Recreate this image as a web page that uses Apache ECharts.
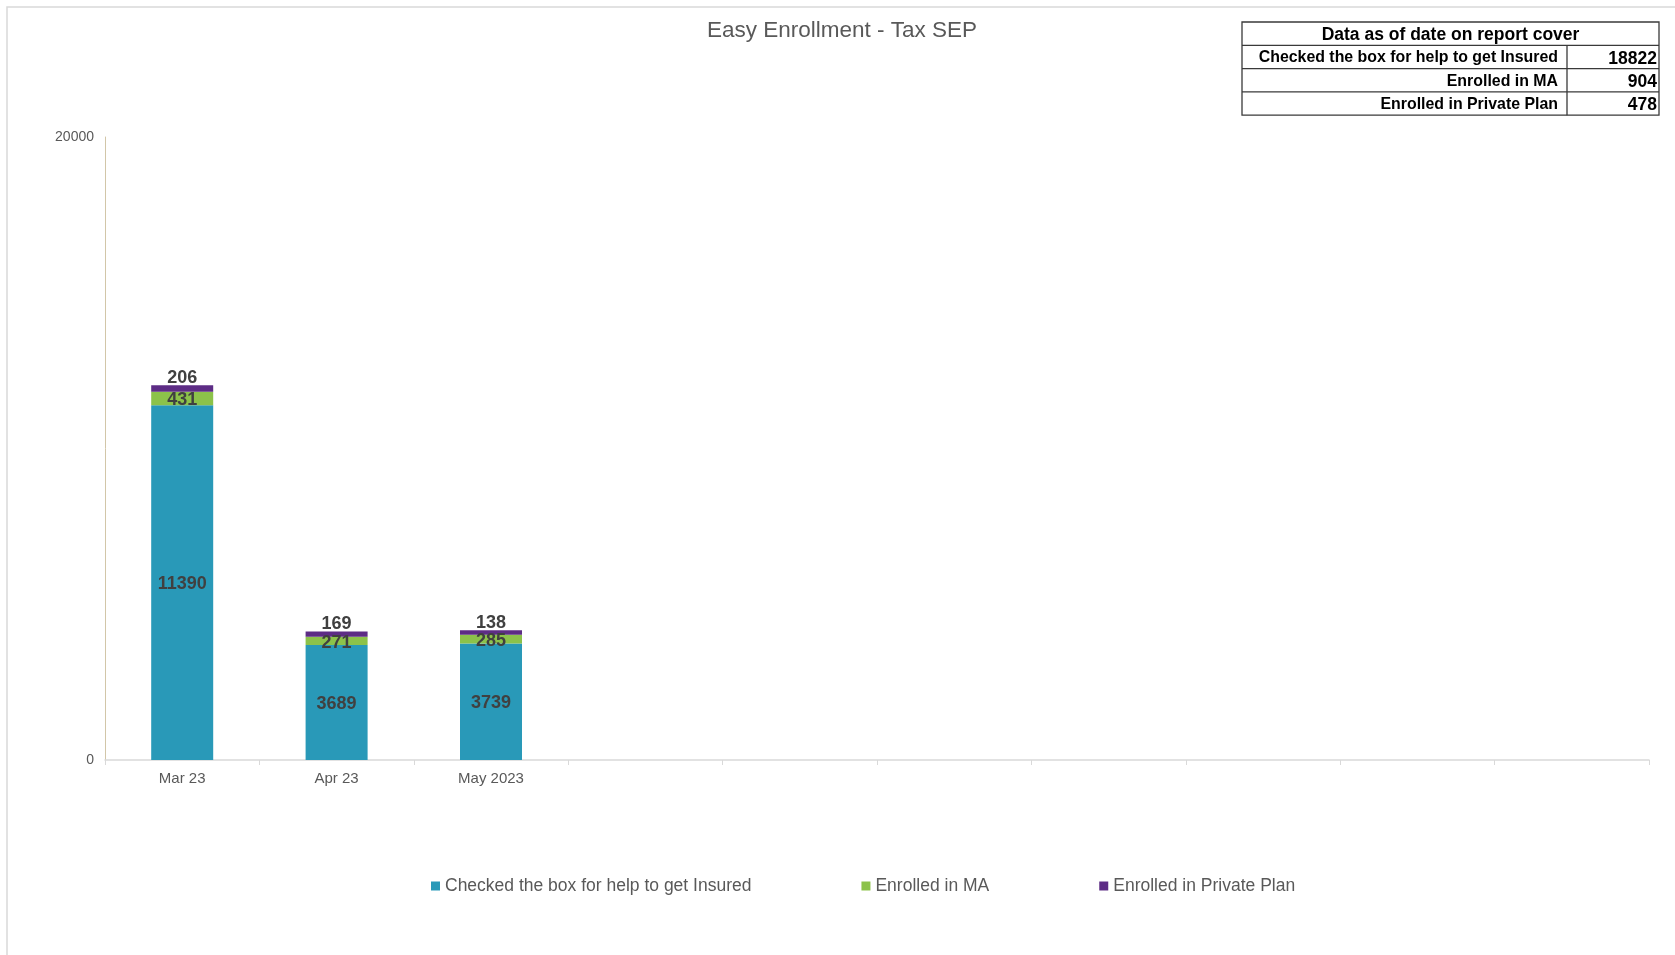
<!DOCTYPE html>
<html>
<head>
<meta charset="utf-8">
<title>Easy Enrollment - Tax SEP</title>
<script src="https://cdn.jsdelivr.net/npm/echarts@6/dist/echarts.min.js"></script>
<style>
    html, body { margin: 0; padding: 0; background: #fff; }
    #chart { width: 1675px; height: 955px; }
</style>
</head>
<body>
<div id="chart"></div>
<script>
// categories (10 slots on the axis, only three filled)
const months = ["Mar 23", "Apr 23", "May 2023", "", "", "", "", "", "", ""];
const seriesNames = ["Checked the box for help to get Insured", "Enrolled in MA", "Enrolled in Private Plan"];
const checkedBox = [11390, 3689, 3739];
const enrolledMA = [431, 271, 285];
const enrolledPrivate = [206, 169, 138];
const yTicks = [0, 20000];

// summary table
const tableTitle = "Data as of date on report cover";
const tableLabels = ["Checked the box for help to get Insured", "Enrolled in MA", "Enrolled in Private Plan"];
const tableValues = [18822, 904, 478];

const colors = ["#2999b8", "#8cc24a", "#5d2c85"];

// table geometry
const tX = 1242, tY = 22, tW = 417, rowH = 23.3, colX = 1567;
let tableEls = [];
tableEls.push({
    type: "rect",
    shape: { x: tX, y: tY, width: tW, height: rowH * 4 },
    style: { fill: "#fff", stroke: "#3a3a3a", lineWidth: 1.3 }
});
for (let i = 1; i < 4; i++) {
    tableEls.push({
        type: "line",
        shape: { x1: tX, y1: tY + rowH * i, x2: tX + tW, y2: tY + rowH * i },
        style: { stroke: "#3a3a3a", lineWidth: 1.3 }
    });
}
tableEls.push({
    type: "line",
    shape: { x1: colX, y1: tY + rowH, x2: colX, y2: tY + rowH * 4 },
    style: { stroke: "#3a3a3a", lineWidth: 1.3 }
});
tableEls.push({
    type: "text",
    x: tX + tW / 2, y: tY + rowH / 2 + 2,
    style: { text: tableTitle, align: "center", verticalAlign: "middle", font: "bold 17.5px 'Liberation Sans', Arial, sans-serif", fill: "#000" }
});
tableLabels.forEach(function (lab, i) {
    tableEls.push({
        type: "text",
        x: colX - 9, y: tY + rowH * (i + 1.5) + 1,
        style: { text: lab, align: "right", verticalAlign: "middle", font: "bold 15.9px 'Liberation Sans', Arial, sans-serif", fill: "#000" }
    });
    tableEls.push({
        type: "text",
        x: tX + tW - 2, y: tY + rowH * (i + 1.5) + 2,
        style: { text: String(tableValues[i]), align: "right", verticalAlign: "middle", font: "bold 17.5px 'Liberation Sans', Arial, sans-serif", fill: "#000" }
    });
});

const labelStyle = {
    show: true,
    fontFamily: "Liberation Sans",
    fontSize: 18,
    fontWeight: "bold",
    color: "#404040"
};

const myChart = echarts.init(document.getElementById("chart"));
const option = {
    animation: false,
    backgroundColor: "#fff",
    color: colors,
    textStyle: { fontFamily: "Liberation Sans" },
    title: {
        text: "Easy Enrollment - Tax SEP",
        left: 702,
        top: 14,
        textStyle: { fontSize: 22.5, fontWeight: "normal", color: "#595959", fontFamily: "Liberation Sans" }
    },
    legend: {
        left: 426,
        top: 872,
        itemWidth: 9,
        itemHeight: 9,
        itemGap: 110,
        icon: "rect",
        data: seriesNames,
        textStyle: { fontSize: 17.5, color: "#595959", fontFamily: "Liberation Sans" }
    },
    grid: { left: 105, right: 26, top: 137, bottom: 195, containLabel: false },
    xAxis: {
        type: "category",
        data: months,
        axisLine: { lineStyle: { color: "#d9d9d9", width: 1.5 } },
        axisTick: { show: true, length: 5, lineStyle: { color: "#d9d9d9" } },
        axisLabel: { fontSize: 15, color: "#595959", margin: 11, interval: 0 }
    },
    yAxis: {
        type: "value",
        min: yTicks[0],
        max: yTicks[yTicks.length - 1],
        interval: yTicks[1] - yTicks[0],
        splitLine: { show: false },
        axisLine: { show: true, lineStyle: { color: "#d2c6a8" } },
        axisTick: { show: false },
        axisLabel: { fontSize: 14, color: "#595959", margin: 11, formatter: function (v) { return String(v); } }
    },
    series: [
        {
            name: seriesNames[0], type: "bar", stack: "total", barWidth: 62,
            data: checkedBox,
            label: Object.assign({ position: "inside", offset: [0, 1] }, labelStyle)
        },
        {
            name: seriesNames[1], type: "bar", stack: "total", barWidth: 62,
            data: enrolledMA,
            label: Object.assign({ position: "inside", offset: [0, 2] }, labelStyle)
        },
        {
            name: seriesNames[2], type: "bar", stack: "total", barWidth: 62,
            data: enrolledPrivate,
            label: Object.assign({ position: "top", distance: -2 }, labelStyle)
        }
    ],
    graphic: [
        {
            type: "polyline",
            shape: { points: [[7, 955], [7, 7], [1675, 7]] },
            style: { stroke: "#d9d9d9", lineWidth: 1.5, fill: null }
        }
    ].concat(tableEls)
};
myChart.setOption(option);
</script>
</body>
</html>
